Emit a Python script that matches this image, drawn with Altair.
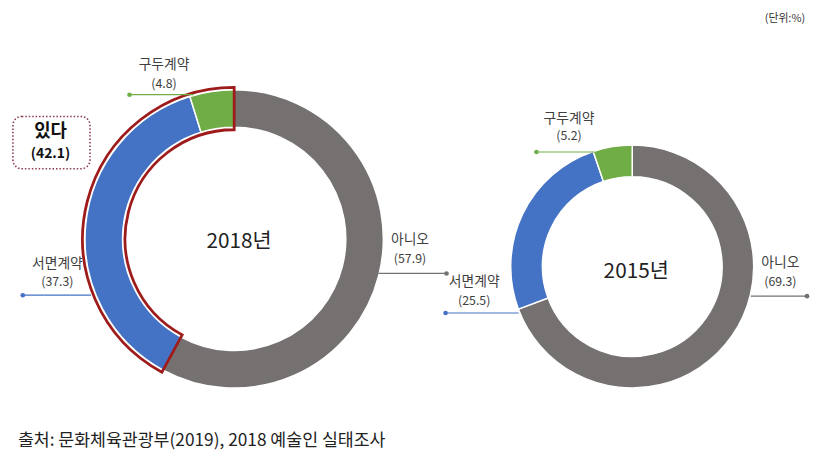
import altair as alt
import pandas as pd

# ---------------- data ----------------
categories = ["아니오", "서면계약", "구두계약"]
values_2018 = [57.9, 37.3, 4.8]
values_2015 = [69.3, 25.5, 5.2]
year_labels = ["2018년", "2015년"]
colors = ["#767171", "#4472C4", "#70AD47"]
yes_label = "있다"
unit_text = "(단위:%)"
source_text = "출처: 문화체육관광부(2019), 2018 예술인 실태조사"

# ---------------- layout (pixels in chart space) ----------------
FONT = "Noto Sans CJK KR"
W, H = 802, 438
L = dict(cx=229, cy=231, ro=151, ri=113)
R = dict(cx=632, cy=259, ro=123, ri=91)

# per category: (text x, name y, value y, line y, line x0, line x1, dot x)
label_pos_2018 = {
    "구두계약": (158, 55, 74, 85, 123, 188, 123),
    "서면계약": (50, 256, 275, 288, 15, 84, 15),
    "아니오": (407, 232, 251, 266, 375, 444, 444),
}
label_pos_2015 = {
    "구두계약": (568, 110, 127, 143, 535, 594, 535),
    "서면계약": (472, 275, 294, 306, 443, 517, 443),
    "아니오": (782, 255, 275, 289, 752, 809, 809),
}

color_scale = alt.Scale(domain=categories, range=colors)


def donut_df(vals):
    return pd.DataFrame({"cat": categories, "value": vals, "order": [0, 1, 2]})


def ring(vals, g):
    return alt.Chart(donut_df(vals)).mark_arc(stroke="white", strokeWidth=1.5).encode(
        theta=alt.Theta("value:Q", stack=True),
        order=alt.Order("order:Q"),
        color=alt.Color("cat:N", scale=color_scale, legend=None),
        x=alt.value(g["cx"]), y=alt.value(g["cy"]),
        radius=alt.value(g["ro"]), radius2=alt.value(g["ri"]),
    )


def labels_df(vals, pos):
    rows = []
    for c, v in zip(categories, vals):
        tx, ny, vy, ly, lx0, lx1, dx = pos[c]
        rows.append(dict(cat=c, name=c, val=f"({v})", tx=tx, ny=ny, vy=vy,
                         ly=ly, lx0=lx0, lx1=lx1, dx=dx))
    return pd.DataFrame(rows)


def annotations(vals, pos):
    df = labels_df(vals, pos)
    base = alt.Chart(df)
    names = base.mark_text(font=FONT, fontSize=14, color="#404040", baseline="middle").encode(
        x=alt.X("tx:Q", scale=None, axis=None), y=alt.Y("ny:Q", scale=None, axis=None), text="name:N")
    nums = base.mark_text(font=FONT, fontSize=12.5, color="#404040", baseline="middle").encode(
        x=alt.X("tx:Q", scale=None, axis=None), y=alt.Y("vy:Q", scale=None, axis=None), text="val:N")
    lines = base.mark_rule(strokeWidth=1.2).encode(
        x=alt.X("lx0:Q", scale=None, axis=None), x2="lx1:Q",
        y=alt.Y("ly:Q", scale=None, axis=None),
        color=alt.Color("cat:N", scale=color_scale, legend=None))
    dots = base.mark_circle(size=22, opacity=1).encode(
        x=alt.X("dx:Q", scale=None, axis=None), y=alt.Y("ly:Q", scale=None, axis=None),
        color=alt.Color("cat:N", scale=color_scale, legend=None))
    return [lines, dots, names, nums]


# outline around the "있다" part (서면계약 + 구두계약) of 2018
yes_2018 = round(values_2018[1] + values_2018[2], 1)
outline_df = pd.DataFrame({"grp": ["아니오", yes_label], "value": [values_2018[0], yes_2018], "order": [0, 1]})
outline = alt.Chart(outline_df).mark_arc(fill="transparent", stroke="#9E1B1B", strokeWidth=2.8).encode(
    theta=alt.Theta("value:Q", stack=True),
    order=alt.Order("order:Q"),
    strokeOpacity=alt.condition(f"datum.grp == '{yes_label}'", alt.value(1), alt.value(0)),
    x=alt.value(L["cx"]), y=alt.value(L["cy"]),
    radius=alt.value(L["ro"] + 2.5), radius2=alt.value(L["ri"] - 2.5),
)

# "있다" box
box_df = pd.DataFrame({"x": [5], "x2": [83], "y": [107], "y2": [160],
                       "t1": [yes_label], "t2": [f"({yes_2018})"], "tx": [43], "y1": [123], "y3": [145]})
box = alt.Chart(box_df).mark_rect(fill="white", stroke="#8B3A4A", strokeWidth=1.6,
                                  strokeDash=[1.5, 2], cornerRadius=9).encode(
    x=alt.X("x:Q", scale=None, axis=None), x2="x2:Q",
    y=alt.Y("y:Q", scale=None, axis=None), y2="y2:Q")
box_t1 = alt.Chart(box_df).mark_text(font=FONT, fontSize=18, fontWeight="bold", color="#111111").encode(
    x=alt.X("tx:Q", scale=None, axis=None), y=alt.Y("y1:Q", scale=None, axis=None), text="t1:N")
box_t2 = alt.Chart(box_df).mark_text(font=FONT, fontSize=14, fontWeight="bold", color="#111111").encode(
    x=alt.X("tx:Q", scale=None, axis=None), y=alt.Y("y3:Q", scale=None, axis=None), text="t2:N")

# center titles and other texts
misc_df = pd.DataFrame({
    "t": [year_labels[0], year_labels[1]],
    "x": [L["cx"] + 5, R["cx"] + 4],
    "y": [L["cy"] + 3, R["cy"] + 6],
})
centers = alt.Chart(misc_df).mark_text(font=FONT, fontSize=21, color="#222222").encode(
    x=alt.X("x:Q", scale=None, axis=None), y=alt.Y("y:Q", scale=None, axis=None), text="t:N")

unit = alt.Chart(pd.DataFrame({"t": [unit_text]})).mark_text(
    font=FONT, fontSize=11, color="#333333", align="right").encode(
    x=alt.value(807), y=alt.value(8), text="t:N")
source = alt.Chart(pd.DataFrame({"t": [source_text]})).mark_text(
    font=FONT, fontSize=17.5, color="#222222", align="left").encode(
    x=alt.value(10), y=alt.value(436), text="t:N")

layers = [ring(values_2018, L), ring(values_2015, R), outline]
layers += annotations(values_2018, label_pos_2018)
layers += annotations(values_2015, label_pos_2015)
layers += [box, box_t1, box_t2, centers, unit, source]

chart = alt.layer(*layers).properties(
    width=W, height=H, padding=0, background="white"
).configure_view(strokeWidth=0, stroke="transparent")

chart.save("out.html", embed_options={"renderer": "svg", "actions": False})
